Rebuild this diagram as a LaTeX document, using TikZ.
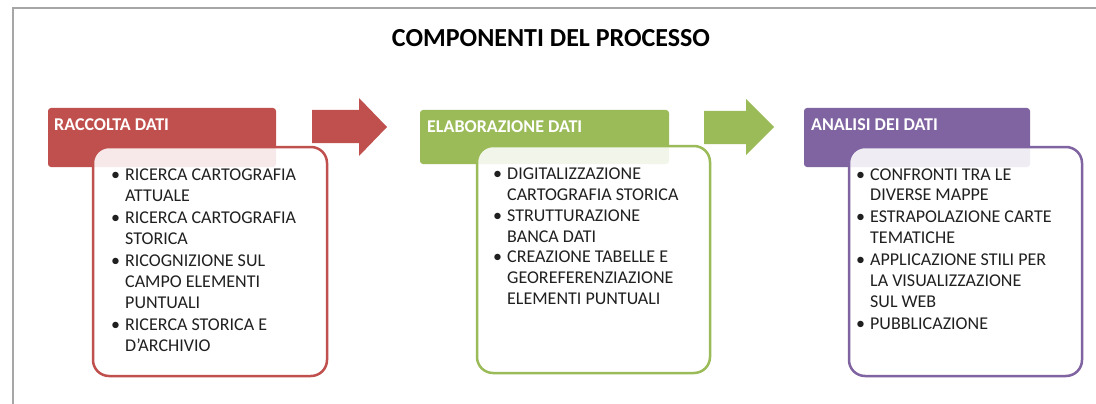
\documentclass[tikz,border=0pt]{standalone}
\usepackage{fontspec}
\setmainfont{Carlito}
\definecolor{cred}{HTML}{C0504D}
\definecolor{cgreen}{HTML}{9BBB59}
\definecolor{cpurple}{HTML}{8064A2}
\definecolor{ctext}{HTML}{202020}
\definecolor{cframe}{HTML}{A6A6A6}
\newcommand\bitem[1]{\par\hangindent=11pt\hangafter=1\noindent\makebox[11pt][l]{\kern-3pt\textbullet}#1}
\newenvironment{blist}[1]{\begin{minipage}[t]{225pt}\setlength\parskip{#1}\let\\\newline}{\end{minipage}}
\begin{document}
\begin{tikzpicture}[x=1pt,y=-1pt,
  headbox/.style={rounded corners=3pt, inner sep=0pt, outer sep=0pt, anchor=north west},
  contentbox/.style={rounded corners=16pt, line width=2.5pt, fill=white, fill opacity=0.88, inner sep=0pt, outer sep=0pt, anchor=north west},
  htext/.style={anchor=base west, inner sep=0pt, text=white, font=\fontsize{18}{20}\selectfont\bfseries},
  btext/.style={anchor=north west, inner sep=0pt, text=ctext, font=\fontsize{18}{20.8}\selectfont}]
\useasboundingbox (0,0) rectangle (1096,404);
\fill[white] (0,0) rectangle (1096,404);
% frame
\draw[cframe, line width=1.5pt] (13,404) -- (13,8) -- (1096,8);
% title
\node[anchor=base, inner sep=0pt, text=black, font=\fontsize{26}{30}\selectfont\bfseries] (title) at (551,47) {COMPONENTI DEL PROCESSO};
% headers
\node[headbox, fill=cred, minimum width=228pt, minimum height=59pt] (h1) at (48,108) {};
\node[headbox, fill=cgreen, minimum width=249pt, minimum height=54pt] (h2) at (420,110) {};
\node[headbox, fill=cpurple, minimum width=226pt, minimum height=59pt] (h3) at (804,108) {};
% content boxes
\node[contentbox, draw=cred, minimum width=234pt, minimum height=229pt] (b1) at (93,147) {};
\node[contentbox, draw=cgreen, minimum width=233pt, minimum height=227pt] (b2) at (477,146) {};
\node[contentbox, draw=cpurple, minimum width=233pt, minimum height=229pt] (b3) at (849,147) {};
% arrows
\fill[cred] (312,110) -- (359,110) -- (359,98) -- (387,127) -- (359,156) -- (359,143) -- (312,143) -- cycle;
\fill[cgreen] (704,111) -- (746,111) -- (746,99) -- (774,127) -- (746,155) -- (746,144) -- (704,144) -- cycle;
% header texts
\node[htext] (t1) at (54,130) {RACCOLTA DATI};
\node[htext] (t2) at (427,132) {ELABORAZIONE DATI};
\node[htext] (t3) at (811,130) {ANALISI DEI DATI};
% bullet texts
\node[btext] (l1) at (114,168.4) {\begin{blist}{1.5pt}%
\bitem{RICERCA CARTOGRAFIA\\ATTUALE}
\bitem{RICERCA CARTOGRAFIA\\STORICA}
\bitem{RICOGNIZIONE SUL\\CAMPO ELEMENTI\\PUNTUALI}
\bitem{RICERCA STORICA E\\D’ARCHIVIO}\end{blist}};
\node[btext] (l2) at (496,167.8) {\begin{blist}{0pt}%
\bitem{DIGITALIZZAZIONE\\CARTOGRAFIA STORICA}
\bitem{STRUTTURAZIONE\\BANCA DATI}
\bitem{CREAZIONE TABELLE E\\GEOREFERENZIAZIONE\\ELEMENTI PUNTUALI}\end{blist}};
\node[btext] (l3) at (859,168.3) {\begin{blist}{1.2pt}%
\bitem{CONFRONTI TRA LE\\DIVERSE MAPPE}
\bitem{ESTRAPOLAZIONE CARTE\\TEMATICHE}
\bitem{APPLICAZIONE STILI PER\\LA VISUALIZZAZIONE\\SUL WEB}
\bitem{PUBBLICAZIONE}\end{blist}};
\end{tikzpicture}
\end{document}
